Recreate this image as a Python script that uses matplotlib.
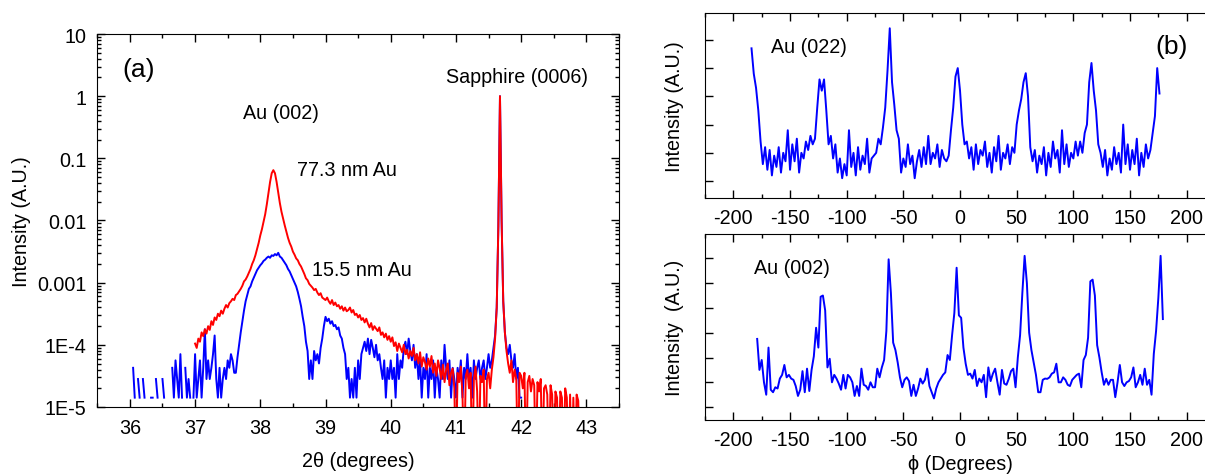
import numpy as np
import matplotlib
matplotlib.use("Agg")
import matplotlib.pyplot as plt
from matplotlib.ticker import LogLocator, MultipleLocator, NullFormatter

plt.rcParams['font.family'] = ['Liberation Sans', 'DejaVu Sans']
plt.rcParams['axes.unicode_minus'] = False
n = np.nan

# ---- (a) 2theta scans, values are log10(intensity)
# 77.3 nm Au film (red), 37.000 .. 42.900 in steps of 0.025
tt_77 = 37.0 + 0.025 * np.arange(237)
logi_77 = [
    -3.98, -4.05, -3.90, -3.95, -3.80, -3.86, -3.75, -3.82,
    -3.70, -3.76, -3.62, -3.68, -3.56, -3.60, -3.50, -3.54,
    -3.45, -3.50, -3.42, -3.36, -3.40, -3.33, -3.30, -3.26,
    -3.28, -3.20, -3.18, -3.14, -3.10, -3.05, -2.98, -2.95,
    -2.90, -2.84, -2.78, -2.70, -2.64, -2.56, -2.46, -2.36,
    -2.24, -2.14, -2.02, -1.90, -1.74, -1.56, -1.38, -1.24,
    -1.19, -1.24, -1.38, -1.55, -1.72, -1.86, -1.97, -2.08,
    -2.18, -2.28, -2.36, -2.42, -2.50, -2.55, -2.61, -2.64,
    -2.70, -2.74, -2.80, -2.86, -2.93, -2.96, -3.02, -3.05,
    -3.08, -3.12, -3.10, -3.16, -3.20, -3.17, -3.24, -3.26,
    -3.28, -3.24, -3.30, -3.34, -3.28, -3.36, -3.32, -3.38,
    -3.36, -3.42, -3.38, -3.45, -3.40, -3.46, -3.44, -3.40,
    -3.48, -3.44, -3.52, -3.50, -3.56, -3.52, -3.60, -3.57,
    -3.64, -3.58, -3.66, -3.72, -3.65, -3.76, -3.70, -3.74,
    -3.78, -3.72, -3.84, -3.80, -3.88, -3.82, -3.92, -3.86,
    -3.95, -3.88, -4.02, -3.96, -4.10, -3.98, -4.05, -4.12,
    -4.00, -4.15, -4.08, -4.22, -4.10, -4.18, -4.05, -4.25,
    -4.15, -4.30, -4.12, -4.35, -4.20, -4.28, -4.40, -4.22,
    -4.35, -4.18, -4.45, -4.30, -4.50, -4.25, -4.38, -4.55,
    -4.32, -4.60, -4.40, -4.30, -4.65, -4.45, -4.38, -4.70,
    -6.00, -4.45, -4.60, -4.35, -4.80, -6.00, -4.50, -4.40,
    -4.70, -4.45, -6.00, -4.55, -4.35, -4.75, -6.00, -4.50,
    -4.60, -4.40, -6.00, -4.55, -4.45, -4.70, -4.40, -4.20,
    -3.90, -3.40, -2.10, 0.00, -2.00, -3.30, -3.80, -4.10,
    -4.30, -4.45, -4.25, -4.60, -4.40, -4.55, -6.00, -4.45,
    -4.50, -4.70, -4.45, -6.00, -4.60, -4.50, -4.75, -4.55,
    -4.65, -6.00, -4.60, -4.75, -4.55, -6.00, -4.70, -4.65,
    -4.80, -6.00, -4.65, -4.80, -6.00, -4.75, -4.85, -6.00,
    -4.75, -4.85, -6.00, -4.70, -4.85, -6.00, -4.80, -6.00,
    -4.85, -6.00, -4.80, -4.90, -6.00,
]

# 15.5 nm Au film (blue), 36.025 .. 42.000 in steps of 0.025
tt_15 = 36.025 + 0.025 * np.arange(240)
logi_15 = [
    n, -4.37, -4.85, n, -4.55, -4.85, n, -4.55,
    -4.85, n, n, n, -4.85, -4.85, n, -4.55,
    -4.85, n, n, -4.55, -4.85, n, n, -4.85,
    n, -4.37, -4.85, -4.25, -4.55, -4.85, -4.15, -4.85,
    n, -4.37, -4.85, -4.55, -4.85, n, -4.85, -4.15,
    -4.85, -4.55, -4.25, -4.85, -4.37, -3.75, -4.55, -4.25,
    -4.55, -4.37, -4.15, -3.85, -4.55, -4.85, -4.37, -4.85,
    -4.55, -4.37, -4.55, -4.25, -4.37, -4.15, -4.25, -4.45,
    -4.45, -4.20, -4.00, -3.80, -3.62, -3.45, -3.30, -3.20,
    -3.10, -3.06, -2.98, -2.92, -2.86, -2.80, -2.76, -2.72,
    -2.69, -2.65, -2.63, -2.60, -2.58, -2.60, -2.56, -2.57,
    -2.54, -2.56, -2.52, -2.58, -2.60, -2.64, -2.68, -2.72,
    -2.78, -2.82, -2.88, -2.94, -3.00, -3.06, -3.15, -3.26,
    -3.38, -3.55, -3.70, -3.95, -4.10, -4.55, -4.25, -4.55,
    -4.10, -4.25, -4.15, -4.30, -4.05, -3.90, -3.70, -3.55,
    -3.62, -3.58, -3.66, -3.62, -3.70, -3.68, -3.75, -3.72,
    -3.85, -3.90, -4.05, -4.15, -4.55, -4.37, -4.85, -4.55,
    -4.85, -4.37, -4.85, -4.25, -4.55, -4.15, -4.05, -3.95,
    -4.10, -3.90, -4.15, -3.92, -4.05, -4.20, -4.00, -4.25,
    -4.15, -4.37, -4.55, -4.25, -4.85, -4.37, -4.55, -4.25,
    -4.55, -4.37, -4.85, -4.15, -4.55, -4.25, -4.37, -4.05,
    -3.95, -4.15, -3.90, -4.10, -4.25, -4.00, -4.37, -4.15,
    -4.55, -4.25, -4.85, -4.37, -4.55, -4.15, -4.85, -4.37,
    -4.55, -4.25, -4.85, -4.37, -4.55, -4.85, -4.25, -4.55,
    -4.00, -4.37, -4.55, -4.25, -4.85, -4.37, -4.55, -4.85,
    -4.37, -4.55, -4.25, -4.85, -4.37, -4.55, -4.15, -4.55,
    -4.37, -4.85, -4.25, -4.55, -4.37, -4.25, -4.55, -4.37,
    -4.25, -4.55, -4.37, -4.15, -4.37, -4.25, -4.05, -3.85,
    -3.40, -2.10, 0.00, -2.00, -3.30, -3.80, -4.05, -4.15,
    -4.00, -4.25, -4.37, -4.15, -4.55, -4.37, -4.85, -4.85,
]

# ---- (b) phi scans, intensity in tick units (A.U.)
phi_022 = np.arange(-184, 177, 2)
int_022 = [
    4.7, 3.8, 3.3, 2.5, 1.4, 0.6, 1.2, 0.4, 1.1, 0.2,
    0.9, 0.5, 1.2, 0.3, 1.0, 0.7, 1.8, 0.4, 1.3, 0.7,
    1.5, 0.3, 1.0, 0.8, 1.4, 1.1, 1.6, 1.3, 1.5, 2.6,
    3.6, 3.2, 3.6, 2.5, 1.3, 1.6, 0.8, 1.3, 0.3, 0.8,
    0.1, 0.6, 0.2, 1.8, 0.5, 1.0, 0.2, 1.2, 0.4, 0.9,
    0.6, 1.5, 0.3, 0.8, 0.9, 1.0, 1.5, 1.3, 1.9, 2.6,
    3.9, 5.41, 3.5, 2.7, 1.8, 1.5, 0.3, 0.8, 0.5, 1.3,
    0.6, 0.9, 0.1, 0.7, 1.1, 0.5, 1.2, 0.6, 1.6, 0.6,
    1.0, 0.8, 1.3, 0.5, 1.1, 0.8, 0.7, 0.9, 1.8, 2.6,
    3.7, 4.0, 3.2, 2.0, 1.3, 1.4, 0.8, 1.2, 0.4, 1.3,
    0.6, 1.1, 0.9, 1.4, 0.5, 1.0, 0.3, 1.2, 0.7, 1.6,
    0.4, 1.0, 0.8, 1.3, 0.6, 1.2, 1.0, 2.0, 2.5, 2.9,
    3.5, 3.82, 3.0, 1.2, 0.7, 1.1, 0.3, 0.9, 0.6, 1.2,
    0.2, 1.0, 0.5, 1.4, 0.8, 1.1, 0.3, 1.8, 0.6, 1.3,
    0.5, 1.0, 0.8, 1.4, 0.9, 1.4, 1.0, 1.7, 2.0, 3.5,
    4.18, 3.2, 2.5, 1.3, 1.0, 0.5, 1.1, 0.2, 0.8, 0.4,
    1.2, 0.6, 1.0, 0.3, 2.0, 0.6, 1.3, 0.4, 1.1, 0.6,
    1.5, 0.2, 1.0, 0.5, 1.3, 0.8, 1.1, 1.7, 2.3, 4.0,
    3.1,
]

phi_002 = np.arange(-179, 180, 2)
int_002 = [
    2.75, 1.5, 1.9, 1.0, 0.5, 2.4, 0.7, 0.6, 0.8, 0.75,
    1.15, 1.3, 1.7, 1.2, 1.3, 1.15, 1.1, 0.85, 0.45, 0.7,
    1.45, 0.6, 1.55, 0.65, 1.5, 2.05, 3.2, 2.4, 4.45, 4.5,
    3.9, 1.6, 1.95, 1.0, 1.3, 1.15, 0.95, 0.7, 1.3, 0.75,
    1.3, 1.2, 1.0, 0.45, 0.85, 0.45, 1.55, 0.9, 0.85, 0.7,
    1.0, 0.8, 0.8, 1.55, 1.2, 1.6, 1.9, 3.07, 5.96, 4.6,
    2.6, 2.3, 1.8, 1.2, 0.8, 1.1, 1.2, 1.05, 0.45, 0.9,
    0.45, 0.75, 1.15, 0.95, 1.1, 1.55, 0.85, 0.6, 0.35, 0.75,
    1.0, 1.15, 1.3, 1.4, 2.1, 1.9, 2.9, 3.8, 5.62, 3.7,
    3.6, 2.4, 1.75, 1.3, 1.35, 1.15, 1.5, 0.85, 1.15, 1.0,
    1.3, 0.4, 1.6, 1.05, 1.35, 1.55, 1.0, 0.5, 1.5, 0.95,
    0.9, 1.14, 1.45, 1.55, 0.8, 2.0, 2.9, 4.6, 6.1, 5.0,
    3.0, 2.3, 1.8, 1.3, 0.6, 0.6, 1.1, 1.15, 1.14, 1.2,
    1.35, 1.4, 1.75, 1.0, 1.0, 1.2, 1.1, 0.9, 0.85, 1.1,
    1.2, 1.3, 1.35, 0.8, 1.9, 2.1, 2.8, 5.07, 5.14, 4.5,
    2.5, 2.0, 1.4, 0.9, 1.14, 0.9, 1.1, 1.1, 0.4, 1.0,
    1.7, 1.0, 0.85, 1.0, 1.05, 1.2, 1.6, 0.8, 1.0, 1.3,
    0.9, 1.55, 0.9, 1.1, 0.5, 2.15, 3.07, 4.4, 6.1, 3.55,
]

a_ticks = [1e-5, 1e-4, 1e-3, 1e-2, 0.1, 1, 10]
a_ticklabels = ['1E-5', '1E-4', '0.001', '0.01', '0.1', '1', '10']

fs = 14.2
fig = plt.figure(figsize=(12.05, 4.77), dpi=100)

# ---------------- panel (a)
ax = fig.add_axes([0.0807, 0.1447, 0.4330, 0.7819])
ax.plot(tt_15, 10 ** np.array(logi_15), color='#0000ff', lw=1.4)
ax.plot(tt_77, 10 ** np.array(logi_77), color='#ff0000', lw=1.4)
ax.set_yscale('log')
ax.set_xlim(35.5, 43.5)
ax.set_ylim(1e-5, 10)
ax.set_yticks(a_ticks)
ax.set_yticklabels(a_ticklabels)
ax.yaxis.set_minor_locator(LogLocator(base=10, subs=np.arange(2, 10)))
ax.yaxis.set_minor_formatter(NullFormatter())
ax.xaxis.set_major_locator(MultipleLocator(1))
ax.xaxis.set_minor_locator(MultipleLocator(0.5))
ax.tick_params(which='both', direction='in', top=True, right=True,
               labelsize=fs, width=1.0, pad=8)
ax.tick_params(which='major', length=6)
ax.tick_params(which='minor', length=3)
ax.set_xlabel('2\u03b8 (degrees)', fontsize=fs, labelpad=10)
ax.set_ylabel('Intensity (A.U.)', fontsize=fs, labelpad=4)
ax.text(35.88, 2.7, '(a)', fontsize=19, va='center')
ax.text(41.93, 2.1, 'Sapphire (0006)', fontsize=fs, ha='center', va='center')
ax.text(38.32, 0.55, 'Au (002)', fontsize=fs, ha='center', va='center')
ax.text(39.33, 0.066, '77.3 nm Au', fontsize=fs, ha='center', va='center')
ax.text(39.56, 0.0016, '15.5 nm Au', fontsize=fs, ha='center', va='center')

# ---------------- panel (b), top: Au (022)
axt = fig.add_axes([0.5851, 0.5828, 0.4232, 0.3878])
axt.plot(phi_022, int_022, color='#0000ff', lw=1.4)
axt.set_xlim(-225, 225)
axt.set_ylim(-0.60, 5.95)
axt.set_yticks(np.arange(0, 6))
axt.set_yticklabels([])
axt.text(-133, 4.77, 'Au (022)', fontsize=fs, ha='center', va='center')
axt.text(187, 4.8, '(b)', fontsize=19, ha='center', va='center')
axt.set_ylabel('Intensity (A.U.)', fontsize=fs, labelpad=8)

# ---------------- panel (b), bottom: Au (002)
axb = fig.add_axes([0.5851, 0.1174, 0.4232, 0.3899])
axb.plot(phi_002, int_002, color='#0000ff', lw=1.4)
axb.set_xlim(-225, 225)
axb.set_ylim(-0.52, 6.98)
axb.set_yticks(np.arange(0, 7))
axb.set_yticklabels([])
axb.text(-148, 5.63, 'Au (002)', fontsize=fs, ha='center', va='center')
axb.set_ylabel('Intensity  (A.U.)', fontsize=fs, labelpad=8)
axb.set_xlabel('\u03d5 (Degrees)', fontsize=fs, labelpad=4)

for a in (axt, axb):
    a.xaxis.set_major_locator(MultipleLocator(50))
    a.xaxis.set_minor_locator(MultipleLocator(25))
    a.tick_params(which='both', direction='in', top=True, right=True,
                  labelsize=fs, width=1.0, pad=7)
    a.tick_params(which='major', length=6)
    a.tick_params(which='minor', length=3)

fig.savefig('out.png', dpi=100)
